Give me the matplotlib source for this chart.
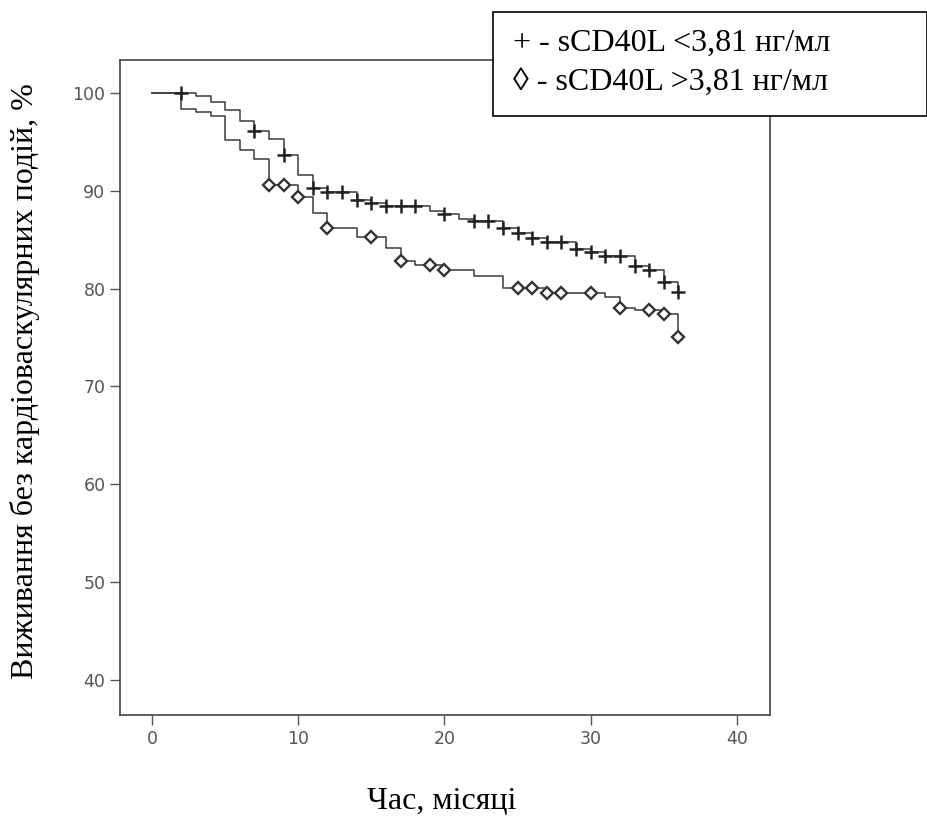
import numpy as np
import matplotlib
matplotlib.use("Agg")
import matplotlib.pyplot as plt
from matplotlib.patches import Rectangle

# group sCD40L < 3,81 (+)
t_low = [0, 3, 4, 5, 6, 7, 8, 9, 10, 11, 12, 14, 15, 16, 19, 20, 21, 22, 24, 25, 26, 27, 29, 30, 31, 33, 34, 35, 36]
s_low = [100, 99.7, 99.1, 98.3, 97.1, 96.1, 95.3, 93.7, 91.6, 90.3, 89.9, 89.1, 88.7, 88.4, 87.9, 87.6, 87.1, 86.9,
         86.2, 85.7, 85.2, 84.8, 84.0, 83.7, 83.3, 82.3, 81.9, 80.7, 79.7]
cens_low = [2, 7, 9, 11, 12, 13, 14, 15, 16, 17, 18, 20, 22, 23, 24, 25, 26, 27, 28, 29, 30, 31, 32, 33, 34, 35, 36]

# group sCD40L > 3,81 (diamond)
t_high = [0, 2, 3, 4, 5, 6, 7, 8, 10, 11, 12, 14, 16, 17, 18, 20, 22, 24, 27, 31, 32, 33, 35, 36]
s_high = [100, 98.4, 98.1, 97.6, 95.2, 94.2, 93.2, 90.6, 89.4, 87.7, 86.2, 85.3, 84.2, 82.8, 82.4, 81.9, 81.3,
          80.1, 79.5, 79.1, 78.0, 77.8, 77.4, 75.1]
cens_high = [8, 9, 10, 12, 15, 17, 19, 20, 25, 26, 27, 28, 30, 32, 34, 35, 36]

x_ticks = [0, 10, 20, 30, 40]
y_ticks = [40, 50, 60, 70, 80, 90, 100]
legend_lines = ["+ - sCD40L <3,81 нг/мл", "\u25ca - sCD40L >3,81 нг/мл"]

serif = ["Liberation Serif", "DejaVu Serif"]


def level_at(times, levels, t):
    i = np.searchsorted(times, t, side="right") - 1
    return levels[i]


fig = plt.figure(figsize=(9.28, 8.21), dpi=100)
ax = fig.add_axes([0.1293, 0.1291, 0.7004, 0.7978])

line_col = "#3a3a3a"
ax.step(t_low, s_low, where="post", color=line_col, lw=1.1)
ax.step(t_high, s_high, where="post", color=line_col, lw=1.1)

# censor marks
ax.plot(cens_low, [level_at(t_low, s_low, t) for t in cens_low], ls="none",
        marker="+", ms=10, mew=1.8, color="#222222")
ax.plot(cens_high, [level_at(t_high, s_high, t) for t in cens_high], ls="none",
        marker="D", ms=6.5, mew=1.7, mfc="white", mec="#333333")

ax.set_xlim(-2.19, 42.26)
ax.set_ylim(36.4, 103.37)
ax.set_xticks(x_ticks)
ax.set_yticks(y_ticks)
ax.tick_params(direction="out", length=7, width=1, color="#555555",
               labelsize=12.5, labelcolor="#555555", pad=3.5)
for sp in ax.spines.values():
    sp.set_color("#444444")
    sp.set_linewidth(1.2)

fig.text(0.027, 0.536, "Виживання без кардіоваскулярних подій, %", rotation=90,
         ha="center", va="center", fontsize=23, family=serif)
fig.text(0.476, 0.024, "Час, місяці", ha="center", va="center", fontsize=23, family=serif)

# legend box in the top-right corner
fig.patches.append(Rectangle((0.5312, 0.8587), 0.4678, 0.1267, transform=fig.transFigure,
                             facecolor="white", edgecolor="black", lw=1.2, zorder=5))
fig.text(0.5528, 0.9476, legend_lines[0], ha="left", va="center", fontsize=23, family=serif, zorder=6)
fig.text(0.5528, 0.9001, legend_lines[1], ha="left", va="center", fontsize=23, family=serif, zorder=6)

fig.savefig("out.png", dpi=100)
